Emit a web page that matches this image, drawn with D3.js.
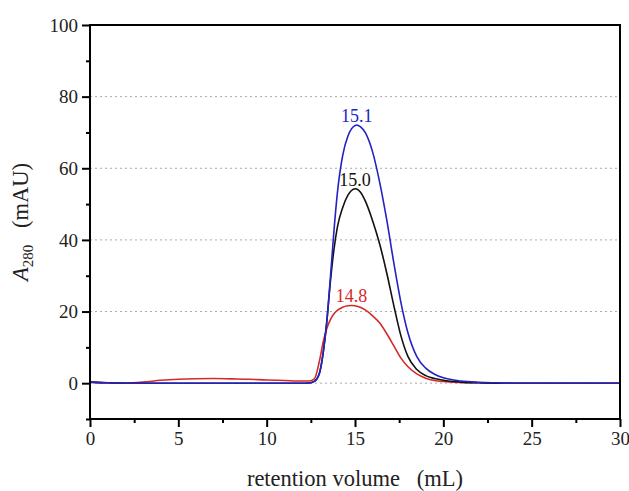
<!DOCTYPE html>
<html>
<head>
<meta charset="utf-8">
<script src="https://cdn.jsdelivr.net/npm/d3@7/dist/d3.min.js"></script>
<style>
  html, body { margin: 0; padding: 0; background: #fff; }
  svg { display: block; }
  text { font-family: "Liberation Serif", "DejaVu Serif", serif; }
</style>
</head>
<body>
<svg id="chart" width="629" height="491"></svg>
<script>
// Retention volume (mL) sampling points shared by all traces
const volume = [0, 1, 2, 3, 4, 5, 6, 7, 8, 9, 10, 11, 12, 12.4, 12.7, 13.0, 13.2, 13.4, 13.6, 13.8,
  14.0, 14.3, 14.6, 14.8, 15.0, 15.1, 15.3, 15.6, 16.0, 16.4, 16.8, 17.2, 17.6, 18.0, 18.5,
  19.0, 19.5, 20, 21, 22, 23, 24, 26, 28, 30];

// A280 absorbance (mAU) of each trace
const blueTrace = [0.3, 0.1, 0, 0, 0, 0, 0, 0, 0, 0, 0, 0, 0, 0.05, 0.5, 3.0, 8.5, 17, 29, 42,
  53, 63.5, 69, 71, 71.9, 72.1, 71.6, 69.8, 64.5, 56, 45.5, 33.5, 22.5, 14, 7.4,
  4.2, 2.5, 1.5, 0.6, 0.25, 0.1, 0, 0, 0, 0];
const blackTrace = [0.3, 0.1, 0, 0, 0, 0, 0, 0, 0, 0, 0, 0, 0, 0.05, 0.5, 3.0, 8.5, 17, 28, 37,
  43.5, 49, 52.5, 53.8, 54.3, 54.2, 53.4, 50.7, 45.3, 38.8, 30.7, 21.6, 13.2, 7.4, 3.8,
  2.1, 1.3, 0.8, 0.3, 0.1, 0, 0, 0, 0, 0];
const redTrace = [0.3, 0.1, 0.05, 0.3, 0.8, 1.1, 1.25, 1.3, 1.2, 1.1, 0.9, 0.75, 0.6, 0.6, 1.2, 6.5, 11.5, 15.2, 17.7, 19.3,
  20.3, 21.2, 21.6, 21.7, 21.6, 21.5, 21.2, 20.4, 18.8, 16.8, 13.8, 10.4, 7.0, 4.6, 2.6,
  1.4, 0.75, 0.45, 0.2, 0.1, 0, 0, 0, 0, 0];

const seriesColors = ["#d42a2a", "#111111", "#2323c4"];
const seriesValues = [redTrace, blackTrace, blueTrace];

// Axis ticks
const xTicks = [0, 5, 10, 15, 20, 25, 30];
const xMinorTicks = [2.5, 7.5, 12.5, 17.5, 22.5, 27.5];
const yTicks = [0, 20, 40, 60, 80, 100];
const yMinorTicks = [-10, 10, 30, 50, 70, 90];
const gridValues = [0, 20, 40, 60, 80];

const margin = { left: 90, right: 9, top: 25, bottom: 72 };
const W = 629, H = 491;
const svg = d3.select("#chart");

const x = d3.scaleLinear().domain([0, 30]).range([margin.left, W - margin.right]);
const y = d3.scaleLinear().domain([-10, 100]).range([H - margin.bottom, margin.top]);

// dotted horizontal grid
svg.append("g").selectAll("line").data(gridValues).join("line")
  .attr("x1", x(0)).attr("x2", x(30))
  .attr("y1", d => y(d)).attr("y2", d => y(d))
  .attr("stroke", "#aaaaaa").attr("stroke-width", 1)
  .attr("stroke-dasharray", "2,3");

// traces
const line = d3.line().curve(d3.curveMonotoneX);
seriesValues.forEach((vals, i) => {
  svg.append("path")
    .attr("d", line(volume.map((v, k) => [x(v), y(vals[k])])))
    .attr("fill", "none")
    .attr("stroke", seriesColors[i])
    .attr("stroke-width", 1.6)
    .attr("stroke-linejoin", "round");
});

// peak annotations: label is the retention volume at the maximum
seriesValues.forEach((vals, i) => {
  const k = d3.maxIndex(vals);
  svg.append("text")
    .attr("x", x(volume[k]))
    .attr("y", y(vals[k]) - 3)
    .attr("text-anchor", "middle")
    .attr("font-size", 18)
    .attr("fill", seriesColors[i])
    .text(volume[k].toFixed(1));
});

// frame
svg.append("rect")
  .attr("x", x(0)).attr("y", y(100))
  .attr("width", x(30) - x(0)).attr("height", y(-10) - y(100))
  .attr("fill", "none").attr("stroke", "#000").attr("stroke-width", 2);

// axes
svg.append("g").attr("transform", `translate(0,${y(-10)})`)
  .call(d3.axisBottom(x).tickValues(xTicks).tickSize(8).tickPadding(5).tickFormat(d3.format("d")));
svg.append("g").attr("transform", `translate(0,${y(-10)})`)
  .call(d3.axisBottom(x).tickValues(xMinorTicks).tickSize(4).tickFormat(""));
svg.append("g").attr("transform", `translate(${x(0)},0)`)
  .call(d3.axisLeft(y).tickValues(yTicks).tickSize(8).tickPadding(4).tickFormat(d3.format("d")));
svg.append("g").attr("transform", `translate(${x(0)},0)`)
  .call(d3.axisLeft(y).tickValues(yMinorTicks).tickSize(4).tickFormat(""));

svg.selectAll(".domain").remove();
svg.selectAll(".tick line").attr("stroke", "#000").attr("stroke-width", 2);
svg.selectAll(".tick text").attr("font-size", 19).attr("fill", "#222")
  .attr("font-family", "Liberation Serif, serif");

// axis titles
svg.append("text")
  .attr("x", (x(0) + x(30)) / 2).attr("y", 486)
  .attr("text-anchor", "middle").attr("font-size", 22.5).attr("fill", "#222")
  .text("retention volume\u00a0\u00a0 (mL)");

const yTitle = svg.append("text")
  .attr("transform", `translate(28,${(y(-10) + y(100)) / 2}) rotate(-90)`)
  .attr("text-anchor", "middle").attr("font-size", 22.5).attr("fill", "#222");
yTitle.append("tspan").attr("font-style", "italic").text("A");
yTitle.append("tspan").attr("font-size", 15).attr("dy", 5).text("280");
yTitle.append("tspan").attr("dy", -5).text("\u00a0\u00a0 (mAU)");
</script>
</body>
</html>
